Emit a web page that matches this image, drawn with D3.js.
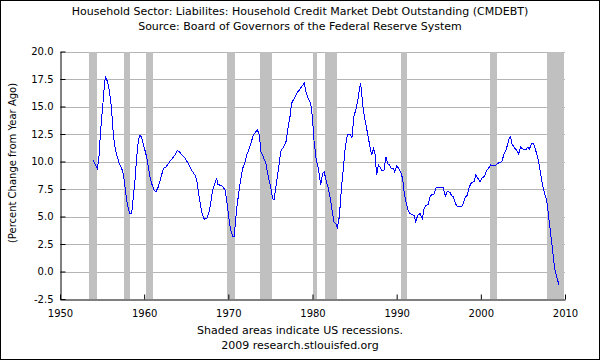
<!DOCTYPE html>
<html>
<head>
<meta charset="utf-8">
<script src="https://cdn.jsdelivr.net/npm/d3@7"></script>
<style>
  html, body { margin: 0; padding: 0; background: #fff; }
  svg { display: block; }
  text { font-family: "DejaVu Sans", Verdana, sans-serif; font-size: 10px; fill: #000; }
  text.big { font-size: 11px; }
</style>
</head>
<body>
<svg id="chart" width="600" height="360"></svg>
<script>
// ---- Data ----
const titleLines = [
  "Household Sector: Liabilites: Household Credit Market Debt Outstanding (CMDEBT)",
  "Source: Board of Governors of the Federal Reserve System"
];
const yAxisLabel = "(Percent Change from Year Ago)";
const footLines = ["Shaded areas indicate US recessions.", "2009 research.stlouisfed.org"];

const xTicks = [1950, 1960, 1970, 1980, 1990, 2000, 2010];
const yTicks = [-2.5, 0, 2.5, 5, 7.5, 10, 12.5, 15, 17.5, 20];

const recessionStart = [1953.5, 1957.55, 1960.2, 1969.85, 1973.8, 1980.0, 1981.5, 1990.5, 2001.12, 2007.9];
const recessionEnd   = [1954.4, 1958.3, 1961.05, 1970.85, 1975.15, 1980.5, 1982.87, 1991.2, 2001.88, 2009.85];

const dates = [
  1953.96,1954.44,1954.63,1954.83,1955.07,1955.23,1955.39,1955.54,1955.78,1956.02,
  1956.18,1956.34,1956.53,1956.73,1957.05,1957.33,1957.52,1957.72,1957.92,1958.12,
  1958.32,1958.51,1958.71,1958.91,1959.11,1959.31,1959.5,1959.7,1959.9,1960.3,
  1960.5,1960.69,1960.89,1961.17,1961.4,1961.68,1961.96,1962.28,1962.59,1962.87,
  1963.15,1963.46,1963.74,1963.94,1964.18,1964.45,1964.85,1965.25,1965.64,1966.04,
  1966.24,1966.48,1966.71,1966.95,1967.15,1967.43,1967.66,1967.9,1968.14,1968.38,
  1968.61,1968.77,1969.01,1969.33,1969.6,1969.8,1970.04,1970.28,1970.51,1970.71,
  1970.83,1970.99,1971.23,1971.46,1971.7,1971.98,1972.18,1972.42,1972.97,1973.44,
  1973.68,1973.88,1974.16,1974.47,1974.75,1975.03,1975.27,1975.42,1975.66,1975.94,
  1976.22,1976.53,1976.85,1977.13,1977.33,1977.52,1977.8,1978.12,1978.43,1978.71,
  1979.03,1979.23,1979.5,1979.78,1979.98,1980.18,1980.42,1980.69,1980.97,1981.21,
  1981.4,1981.6,1981.84,1982.08,1982.32,1982.55,1982.79,1982.95,1983.19,1983.42,
  1983.66,1983.9,1984.14,1984.45,1984.69,1984.93,1985.17,1985.4,1985.56,1985.72,
  1985.88,1986.04,1986.24,1986.43,1986.63,1986.83,1987.03,1987.23,1987.42,1987.62,
  1987.82,1988.02,1988.25,1988.49,1988.73,1988.93,1989.13,1989.37,1989.6,1989.76,
  1990.0,1990.24,1990.47,1990.71,1990.91,1991.11,1991.35,1991.58,1991.82,1992.06,
  1992.26,1992.49,1992.77,1993.05,1993.25,1993.48,1993.76,1993.96,1994.2,1994.43,
  1994.67,1995.0,1995.23,1995.54,1995.78,1996.02,1996.33,1996.53,1996.73,1996.97,
  1997.2,1997.44,1997.72,1997.92,1998.16,1998.39,1998.63,1998.91,1999.18,1999.42,
  1999.66,1999.9,2000.14,2000.45,2000.69,2000.93,2001.17,2001.4,2001.68,2001.96,
  2002.2,2002.51,2002.75,2002.99,2003.19,2003.38,2003.54,2003.7,2003.94,2004.26,
  2004.49,2004.73,2005.05,2005.36,2005.6,2005.76,2006.0,2006.23,2006.39,2006.63,
  2006.87,2007.11,2007.34,2007.58,2007.82,2008.06,2008.29,2008.53,2008.77,2009.01,
  2009.29
];
const values = [
  10.1,9.36,10.4,12.85,14.97,16.5,17.7,17.5,16.8,15.6,
  14.1,12.4,11.3,10.6,9.8,9.36,8.9,7.7,6.5,5.7,
  5.27,5.27,6.8,8.3,10.4,11.9,12.4,12.2,11.6,10.4,
  9.5,8.6,8.0,7.4,7.24,7.7,8.45,9.36,9.5,9.8,
  10.1,10.4,10.7,11.0,10.9,10.6,10.3,9.8,9.2,8.76,
  8.3,7.1,5.9,5.1,4.76,4.8,5.27,6.2,7.4,8.0,
  8.45,7.9,7.85,7.76,7.4,6.5,5.0,3.76,3.2,3.2,
  4.36,5.7,7.1,8.3,9.36,9.97,10.6,11.0,12.4,12.9,
  12.4,10.9,10.4,9.8,8.6,7.7,6.6,6.5,7.7,9.2,
  10.9,11.3,11.8,13.2,14.1,15.3,15.7,16.2,16.5,16.8,
  17.15,16.3,15.7,15.3,14.1,11.9,10.3,9.36,7.9,8.9,
  9.06,8.3,7.7,6.8,5.6,4.5,4.36,3.9,5.0,7.4,
  9.36,11.3,12.4,12.5,12.2,14.1,14.8,15.6,16.5,17.15,
  15.9,14.7,13.8,13.0,12.2,11.3,10.6,11.2,10.7,8.76,
  9.7,9.5,9.2,9.2,10.4,9.8,9.7,9.36,9.36,9.06,
  9.6,9.36,9.06,8.45,7.1,6.3,5.6,5.27,5.2,5.1,
  4.5,5.1,5.27,4.8,5.7,6.0,6.1,6.8,7.0,7.0,
  7.6,7.6,7.6,7.6,6.85,7.3,7.2,6.9,6.8,6.2,
  5.9,5.9,5.9,6.2,6.8,6.9,7.7,8.1,8.15,8.8,
  8.45,8.15,8.5,8.67,9.2,9.4,9.7,9.6,9.6,9.8,
  9.9,10.0,10.7,11.0,11.6,12.1,12.24,11.6,11.3,11.0,
  10.7,11.3,11.1,11.1,11.3,11.1,11.6,11.6,11.4,10.7,
  10.0,8.9,7.85,7.1,6.5,5.0,3.45,1.94,0.27,-0.48,
  -1.24
];

// ---- Drawing ----
const svg = d3.select("#chart");
const W = 600, H = 360;
const x = d3.scaleLinear().domain([1950, 2010]).range([60, 565]);
const y = d3.scaleLinear().domain([-2.5, 20]).range([299, 51.5]);

svg.append("rect").attr("x", 0).attr("y", 0).attr("width", W).attr("height", H).attr("fill", "#fff");
svg.append("rect").attr("x", 0.5).attr("y", 0.5).attr("width", W - 1).attr("height", H - 1)
  .attr("fill", "none").attr("stroke", "#000").attr("stroke-width", 1);

// titles
svg.selectAll("text.title").data(titleLines).join("text")
  .attr("class", "title big").attr("x", W / 2).attr("y", (d, i) => 15 + i * 14.5)
  .attr("text-anchor", "middle").text(d => d);

// gridlines
svg.append("g").selectAll("line").data(yTicks.filter(v => v > -2.5)).join("line")
  .attr("x1", x(1950)).attr("x2", x(2010))
  .attr("y1", d => Math.round(y(d)) + 0.5).attr("y2", d => Math.round(y(d)) + 0.5)
  .attr("stroke", "#b4b4b4").attr("stroke-width", 1);

// recession bands
const rec = recessionStart.map((s, i) => ({ s, e: recessionEnd[i] }));
svg.append("g").selectAll("rect").data(rec).join("rect")
  .attr("x", d => Math.round(x(d.s)))
  .attr("width", d => Math.round(x(d.e)) - Math.round(x(d.s)))
  .attr("y", Math.round(y(20)))
  .attr("height", Math.round(y(-2.5)) - Math.round(y(20)))
  .attr("fill", "#c0c0c0");

// line
const pts = dates.map((d, i) => [d, values[i]]);
svg.append("path").datum(pts)
  .attr("fill", "none").attr("stroke", "#0000ff").attr("stroke-width", 1)
  .attr("shape-rendering", "crispEdges")
  .attr("d", d3.line().x(d => x(d[0])).y(d => y(d[1])));

// axes
const yAxis = d3.axisLeft(y).tickValues(yTicks).tickFormat(d => d.toFixed(1))
  .tickSizeInner(-5).tickSizeOuter(0).tickPadding(7);
const gy = svg.append("g").attr("transform", "translate(60.5,0)").call(yAxis);
const xAxis = d3.axisBottom(x).tickValues(xTicks).tickFormat(d3.format("d"))
  .tickSizeInner(-5).tickSizeOuter(0).tickPadding(10);
const gx = svg.append("g").attr("transform", "translate(0,299.5)").call(xAxis);
[gy, gx].forEach(g => {
  g.attr("font-family", null).attr("font-size", null);
  g.selectAll("path.domain").attr("stroke", "#000");
  g.selectAll(".tick line").attr("stroke", "#000");
  g.selectAll("text").attr("fill", "#000");
});

// y axis label
svg.append("text").attr("transform", "translate(16,163) rotate(-90)")
  .attr("text-anchor", "middle").text(yAxisLabel);

// footer
svg.selectAll("text.foot").data(footLines).join("text")
  .attr("class", "foot big").attr("x", W / 2).attr("y", (d, i) => 334 + i * 15)
  .attr("text-anchor", "middle").text(d => d);
</script>
</body>
</html>
